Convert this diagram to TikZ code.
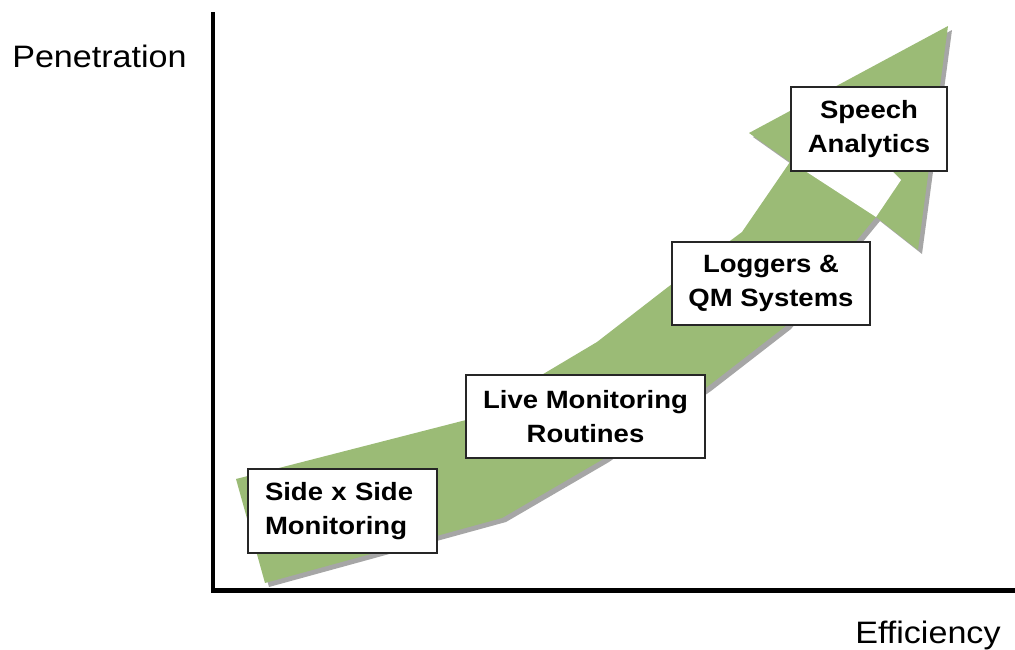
\documentclass[tikz,border=0pt]{standalone}
\usepackage{fontspec}
\setmainfont{Liberation Sans}[FakeStretch=1.1]
\definecolor{leafgreen}{RGB}{155,187,118}
\definecolor{shadowgray}{RGB}{166,166,166}

\begin{document}
\begin{tikzpicture}[x=0.75pt, y=-0.75pt,
  stage/.style = {draw=black!85, line width=1.5pt, fill=white, inner sep=0pt, align=center, font=\fontsize{18.75}{25}\selectfont\bfseries},
  axislabel/.style = {inner sep=0pt, anchor=base west, font=\fontsize{23.25}{28}\selectfont},
  arrowshape/.style = {insert path={(236,479) -- (466,420) -- (597,342) -- (668,287) -- (742,232) -- (790,162) -- (749,133) -- (948,26) -- (918,250) -- (876,217) -- (787,325) -- (707,387) -- (605,458) -- (502,518) -- (265,583) -- cycle}}]
\useasboundingbox (0,0) rectangle (1015,650);
% growth arrow with its shadow
\fill[shadowgray, shift={(4,4)}, arrowshape];
\fill[leafgreen, arrowshape];
\fill[white] (796,165) -- (876,217) -- (901,180) -- (886,165) -- cycle;
% axes
\coordinate (top) at (213,12);
\coordinate (corner) at (213,590.5);
\coordinate (right) at (1015,590.5);
\draw[line width=3.6pt] (top) -- (corner) -- (right);
\node[axislabel] (pen) at (12,67) {Penetration};
\node[axislabel] (eff) at (855,643) {Efficiency};
% stages
\node[stage, minimum width=141.75pt, minimum height=63pt, text width=116.25pt, align=left] (side) at (342.5,511) {Side x Side\\Monitoring};
\node[stage, minimum width=179.25pt, minimum height=62.25pt] (live) at (585.5,416.5) {Live Monitoring\\Routines};
\node[stage, minimum width=148.5pt, minimum height=62.25pt] (logger) at (771,283.5) {Loggers \&\\QM Systems};
\node[stage, minimum width=117pt, minimum height=63pt] (speech) at (869,129) {Speech\\Analytics};
\end{tikzpicture}
\end{document}
